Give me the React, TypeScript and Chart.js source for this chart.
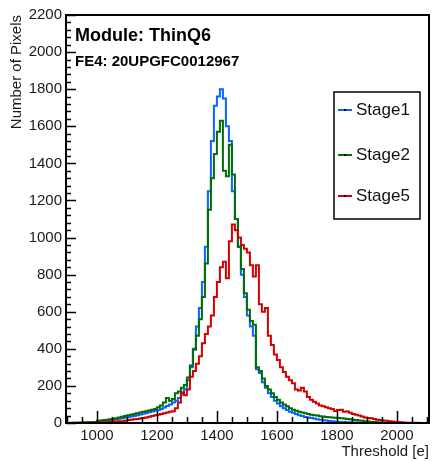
import { useEffect, useRef } from "react";
import { Chart, registerables } from "chart.js";

Chart.register(...registerables);

// Histogram binning (low edge of first bin, bin width) in threshold units [e]
const BIN_START = 900;
const BIN_WIDTH = 10;

// Counts per bin, bins 900..2090
const STAGE1 = [
  0, 0, 1, 1, 2, 2, 3, 3, 4, 5,
  10, 11, 12, 14, 16, 18, 20, 23, 26, 29,
  32, 35, 38, 42, 46, 50, 54, 58, 62, 66,
  70, 76, 84, 92, 100, 110, 120, 135, 155, 180,
  230, 300, 400, 520, 620, 760, 950, 1250, 1520, 1710,
  1760, 1800, 1750, 1600, 1520, 1250, 1100, 950, 800, 680,
  580, 520, 470, 290, 270, 220, 190, 160, 140, 120,
  105, 90, 80, 70, 60, 55, 48, 42, 38, 33,
  30, 27, 24, 20, 18, 15, 13, 11, 10, 8,
  7, 6, 5, 4, 4, 3, 3, 2, 2, 1,
  1, 1, 1, 0, 0, 0, 0, 0, 0, 0,
  0, 0, 0, 0, 0, 0, 0, 0, 0, 0,
];

const STAGE2 = [
  0, 1, 1, 2, 2, 3, 3, 4, 5, 6,
  12, 14, 16, 18, 20, 23, 26, 30, 34, 38,
  42, 45, 48, 52, 56, 60, 64, 68, 72, 75,
  85, 95, 110, 135, 120, 130, 160, 170, 190, 205,
  245, 310, 395, 470, 560, 680, 860, 1150, 1320, 1450,
  1570, 1630, 1360, 1330, 1500, 1340, 1100, 950, 830, 700,
  610, 550, 530, 300, 280, 240, 200, 180, 160, 140,
  125, 110, 100, 90, 80, 72, 66, 60, 56, 52,
  48, 45, 42, 40, 37, 35, 33, 31, 30, 28,
  27, 26, 24, 22, 20, 18, 16, 14, 12, 10,
  8, 6, 5, 4, 3, 2, 1, 1, 0, 0,
  0, 0, 0, 0, 0, 0, 0, 0, 0, 0,
];

const STAGE5 = [
  0, 0, 0, 0, 1, 1, 1, 1, 2, 2,
  3, 4, 4, 5, 6, 7, 8, 9, 10, 12,
  16, 18, 20, 22, 24, 27, 30, 34, 38, 42,
  45, 48, 52, 56, 60, 63, 80, 110, 165, 150,
  180, 250, 280, 320, 360, 430, 480, 520, 580, 680,
  760, 840, 870, 780, 980, 1070, 1040, 1000, 960, 940,
  920, 850, 790, 850, 640, 600, 620, 470, 420, 370,
  340, 300, 275, 250, 230, 215, 180, 175, 190, 170,
  140, 125, 115, 105, 95, 90, 85, 80, 75, 65,
  70, 72, 60, 62, 55, 48, 45, 40, 35, 30,
  27, 25, 22, 18, 16, 14, 12, 10, 8, 6,
  5, 4, 3, 2, 2, 1, 1, 0, 0, 0,
];

const SERIES_LABELS = ["Stage1", "Stage2", "Stage5"];
const SERIES_COLORS = ["#0a64ff", "#006e00", "#d20000"];

const X_TICKS = [1000, 1200, 1400, 1600, 1800, 2000];
const Y_TICKS = [0, 200, 400, 600, 800, 1000, 1200, 1400, 1600, 1800, 2000, 2200];
const X_MIN = 897;
const X_MAX = 2107;
const Y_MIN = 0;
const Y_MAX = 2200;
const X_MINOR_STEP = 50;
const Y_MINOR_STEP = 40;

const TITLE = "Module: ThinQ6";
const SUBTITLE = "FE4: 20UPGFC0012967";
const X_TITLE = "Threshold [e]";
const Y_TITLE = "Number of Pixels";

const FONT = "'Liberation Sans', Arial, Helvetica, sans-serif";

function toPoints(values: number[]) {
  const pts = values.map((v, i) => ({ x: BIN_START + i * BIN_WIDTH, y: v }));
  pts.push({ x: BIN_START + values.length * BIN_WIDTH, y: values[values.length - 1] });
  return pts;
}

const rootPlugin = {
  id: "rootStyle",
  afterDatasetsDraw(chart: any) {
    const { ctx, chartArea } = chart;
    const xs = chart.scales.x;
    const ys = chart.scales.y;
    ctx.save();
    ctx.strokeStyle = "#000";
    ctx.lineWidth = 1.5;
    // y ticks (inward)
    for (let v = Y_MIN; v <= Y_MAX; v += Y_MINOR_STEP) {
      const py = Math.round(ys.getPixelForValue(v)) + 0.5;
      const major = Y_TICKS.includes(v);
      const len = major ? 10 : 5;
      ctx.beginPath();
      ctx.moveTo(chartArea.left, py);
      ctx.lineTo(chartArea.left + len, py);
      ctx.stroke();
    }
    // x ticks (inward)
    const startMinor = Math.ceil(X_MIN / X_MINOR_STEP) * X_MINOR_STEP;
    for (let v = startMinor; v <= X_MAX; v += X_MINOR_STEP) {
      const px = Math.round(xs.getPixelForValue(v)) + 0.5;
      const major = X_TICKS.includes(v);
      const len = major ? 12 : 6;
      ctx.beginPath();
      ctx.moveTo(px, chartArea.bottom);
      ctx.lineTo(px, chartArea.bottom - len);
      ctx.stroke();
    }
    // frame
    ctx.lineWidth = 2;
    ctx.strokeRect(
      chartArea.left,
      chartArea.top,
      chartArea.right - chartArea.left,
      chartArea.bottom - chartArea.top
    );
    ctx.restore();
  },
  afterDraw(chart: any) {
    const { ctx, chartArea } = chart;
    ctx.save();
    ctx.fillStyle = "#000";
    ctx.textAlign = "left";
    ctx.textBaseline = "alphabetic";
    ctx.font = `bold 18px ${FONT}`;
    ctx.fillText(TITLE, chartArea.left + 9, chartArea.top + 26);
    ctx.font = `bold 15px ${FONT}`;
    ctx.fillText(SUBTITLE, chartArea.left + 9, chartArea.top + 51);

    // legend box
    const bx = chartArea.right - 95;
    const by = chartArea.top + 77;
    const bw = 86;
    const bh = 127;
    ctx.fillStyle = "#fff";
    ctx.fillRect(bx, by, bw, bh);
    ctx.strokeStyle = "#000";
    ctx.lineWidth = 1.5;
    ctx.strokeRect(bx, by, bw, bh);
    ctx.font = `17px ${FONT}`;
    const rowY = [110, 155, 196];
    chart.data.datasets.forEach((ds: any, i: number) => {
      const cy = rowY[i];
      ctx.strokeStyle = ds.borderColor;
      ctx.lineWidth = 2;
      ctx.beginPath();
      ctx.moveTo(bx + 4, cy);
      ctx.lineTo(bx + 18, cy);
      ctx.stroke();
      ctx.fillStyle = "#000";
      ctx.fillRect(bx + 10, cy - 1, 2, 2);
      ctx.fillStyle = "#111";
      ctx.textBaseline = "middle";
      ctx.fillText(ds.label, bx + 22, cy);
    });
    ctx.restore();
  },
};

export default function App() {
  const canvasRef = useRef<HTMLCanvasElement | null>(null);

  useEffect(() => {
    document.body.style.margin = "0";
    const canvas = canvasRef.current;
    if (!canvas) return;
    const seriesValues = [STAGE1, STAGE2, STAGE5];
    const chart = new Chart(canvas, {
      type: "line",
      data: {
        datasets: seriesValues.map((vals, i) => ({
          label: SERIES_LABELS[i],
          data: toPoints(vals),
          borderColor: SERIES_COLORS[i],
          backgroundColor: SERIES_COLORS[i],
          borderWidth: 2,
          pointRadius: 0,
          stepped: "before" as const,
          fill: false,
          order: 3 - i,
        })),
      },
      options: {
        animation: false,
        responsive: false,
        devicePixelRatio: 1,
        layout: { padding: { left: 8, right: 3, top: 15, bottom: 0 } },
        plugins: { legend: { display: false }, tooltip: { enabled: false } },
        scales: {
          x: {
            type: "linear",
            min: X_MIN,
            max: X_MAX,
            afterBuildTicks: (s: any) => {
              s.ticks = X_TICKS.map((v) => ({ value: v }));
            },
            afterFit: (s: any) => {
              s.height = 38;
            },
            grid: { display: false, drawTicks: false },
            border: { display: false },
            ticks: {
              padding: 4,
              color: "#1a1a1a",
              font: { family: FONT, size: 15 },
              maxRotation: 0,
              autoSkip: false,
              callback: (v: any) => String(v),
            },
            title: {
              display: true,
              text: X_TITLE,
              align: "end",
              color: "#1a1a1a",
              font: { family: FONT, size: 15 },
              padding: { top: 0, bottom: 0 },
            },
          },
          y: {
            type: "linear",
            min: Y_MIN,
            max: Y_MAX,
            afterBuildTicks: (s: any) => {
              s.ticks = Y_TICKS.map((v) => ({ value: v }));
            },
            afterFit: (s: any) => {
              s.width = 58;
            },
            grid: { display: false, drawTicks: false },
            border: { display: false },
            ticks: {
              padding: 4,
              color: "#1a1a1a",
              font: { family: FONT, size: 15 },
              autoSkip: false,
              callback: (v: any) => String(v),
            },
            title: {
              display: true,
              text: Y_TITLE,
              align: "end",
              color: "#1a1a1a",
              font: { family: FONT, size: 15 },
              padding: { top: 0, bottom: 0 },
            },
          },
        },
      },
      plugins: [rootPlugin],
    });
    return () => chart.destroy();
  }, []);

  return (
    <div style={{ width: 432, height: 461, background: "#fff" }}>
      <canvas ref={canvasRef} width={432} height={461} style={{ display: "block" }} />
    </div>
  );
}
